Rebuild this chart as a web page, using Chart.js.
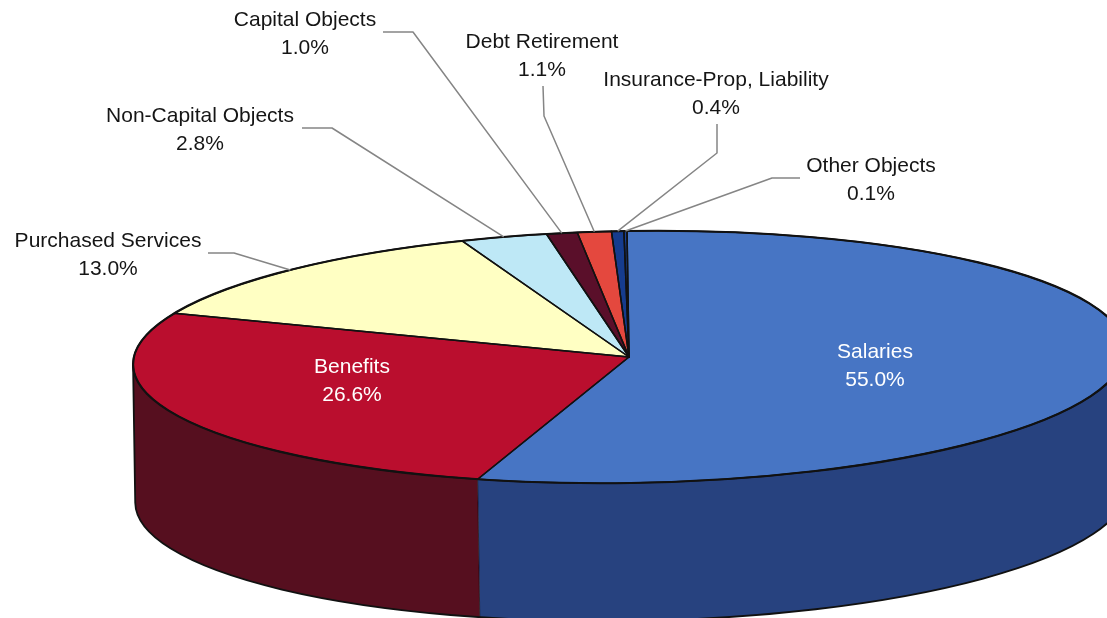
<!DOCTYPE html>
<html><head><meta charset="utf-8">
<script src="https://cdn.jsdelivr.net/npm/chart.js@4.4.1/dist/chart.umd.min.js"></script>
<style>html,body{margin:0;padding:0;background:#fff;overflow:hidden}canvas{display:block}</style>
</head><body>
<canvas id="c" width="1107" height="618"></canvas>
<script>
// ---- data ----
const categories = ["Salaries","Benefits","Purchased Services","Non-Capital Objects","Capital Objects","Debt Retirement","Insurance-Prop, Liability","Other Objects"];
const shares = [55.0, 26.6, 13.0, 2.8, 1.0, 1.1, 0.4, 0.1];

// ---- styles ----
const topColors  = ["#4775c4","#ba0e2e","#ffffc3","#bee8f6","#5a0f2a","#e4483e","#163c8e","#1a4296"];
const sideColors = ["#27427f","#560f1f","#d8d8a0","#9cc0d0","#3a0818","#a83028","#0e2460","#122c70"];
const geom = { Ry: 126, depth: 138, tilt: -0.0157 };
const FONT = "21px 'Liberation Sans', Arial, sans-serif";
const lineGap = 28;
const labelLayout = [
  {x:875, y:358, color:'#ffffff'},
  {x:352, y:373, color:'#ffffff'},
  {x:108, y:247, leader:[[208,253],[234,253]]},
  {x:200, y:122, leader:[[302,128],[332,128]]},
  {x:305, y:26,  leader:[[383,32],[413,32]]},
  {x:542, y:48,  leader:[[543,86],[544,116]]},
  {x:716, y:86,  leader:[[717,124],[717,153]]},
  {x:871, y:172, leader:[[800,178],[772,178]]}
];

function setTop(ctx, cx, cy, k){
  ctx.translate(cx, cy); ctx.rotate(geom.tilt); ctx.scale(1, k); ctx.translate(-cx, -cy);
}

const pie3d = {
  id: 'pie3d',
  beforeDatasetsDraw(chart){
    const ctx = chart.ctx;
    const arcs = chart.getDatasetMeta(0).data;
    const a0 = arcs[0];
    const cx = a0.x, cy = a0.y, R = a0.outerRadius, Ry = geom.Ry, D = geom.depth;
    ctx.save();
    ctx.translate(cx, cy); ctx.rotate(geom.tilt);
    arcs.forEach((arc, i) => {
      const s = arc.startAngle, e = arc.endAngle;
      for (const off of [-2*Math.PI, 0, 2*Math.PI]) {
        const lo = Math.max(s, off), hi = Math.min(e, Math.PI + off);
        if (hi > lo) {
          ctx.beginPath();
          ctx.ellipse(0, 0, R, Ry, 0, lo, hi, false);
          ctx.ellipse(0, D, R, Ry, 0, hi, lo, true);
          ctx.closePath();
          ctx.fillStyle = sideColors[i];
          ctx.fill();
        }
      }
      // slice boundary on visible side
      let a = ((s % (2*Math.PI)) + 2*Math.PI) % (2*Math.PI);
      if (a > 0.001 && a < Math.PI - 0.001) {
        const x = R*Math.cos(a), y = Ry*Math.sin(a);
        ctx.beginPath(); ctx.moveTo(x, y); ctx.lineTo(x, y + D);
        ctx.lineWidth = 1; ctx.strokeStyle = 'rgba(0,0,0,0.55)'; ctx.stroke();
      }
    });
    // side outline
    ctx.beginPath();
    ctx.moveTo(-R, 0); ctx.lineTo(-R, D);
    ctx.ellipse(0, D, R, Ry, 0, Math.PI, 0, true);
    ctx.lineTo(R, 0);
    ctx.lineWidth = 1.8; ctx.strokeStyle = '#111'; ctx.lineJoin = 'round'; ctx.stroke();
    ctx.restore();
    ctx.save();
    setTop(ctx, cx, cy, Ry / R);
  },
  afterDatasetsDraw(chart){
    const ctx = chart.ctx;
    ctx.restore();
    const arcs = chart.getDatasetMeta(0).data;
    const a0 = arcs[0];
    const cx = a0.x, cy = a0.y, R = a0.outerRadius, Ry = geom.Ry, k = Ry / R;
    const t = geom.tilt;
    // slice outlines
    arcs.forEach(arc => {
      ctx.save(); setTop(ctx, cx, cy, k);
      ctx.beginPath(); ctx.moveTo(cx, cy);
      ctx.arc(cx, cy, R, arc.startAngle, arc.endAngle); ctx.closePath();
      ctx.restore();
      ctx.lineWidth = 1.5; ctx.strokeStyle = '#111'; ctx.lineJoin = 'round'; ctx.stroke();
    });
    ctx.save(); setTop(ctx, cx, cy, k);
    ctx.beginPath(); ctx.arc(cx, cy, R, 0, 2*Math.PI);
    ctx.restore();
    ctx.lineWidth = 2.2; ctx.strokeStyle = '#111'; ctx.stroke();

    // labels and leaders
    ctx.save();
    ctx.font = FONT; ctx.textAlign = 'center'; ctx.textBaseline = 'alphabetic';
    arcs.forEach((arc, i) => {
      const L = labelLayout[i];
      if (L.leader) {
        const mid = (arc.startAngle + arc.endAngle) / 2;
        const lx = R*Math.cos(mid), ly = Ry*Math.sin(mid);
        const ex = cx + lx*Math.cos(t) - ly*Math.sin(t);
        const ey = cy + lx*Math.sin(t) + ly*Math.cos(t);
        ctx.beginPath();
        ctx.moveTo(L.leader[0][0], L.leader[0][1]);
        ctx.lineTo(L.leader[1][0], L.leader[1][1]);
        ctx.lineTo(ex, ey);
        ctx.lineWidth = 1.5; ctx.strokeStyle = '#858585'; ctx.stroke();
      }
      ctx.fillStyle = L.color || '#151515';
      ctx.fillText(categories[i], L.x, L.y);
      ctx.fillText(shares[i].toFixed(1) + '%', L.x, L.y + lineGap);
    });
    ctx.restore();
  }
};

new Chart(document.getElementById('c'), {
  type: 'pie',
  data: {
    labels: categories,
    datasets: [{
      data: shares,
      backgroundColor: topColors,
      borderWidth: 0,
      radius: 496,
      clip: false
    }]
  },
  options: {
    responsive: false,
    devicePixelRatio: 1,
    animation: false,
    layout: { padding: { left: 151, top: 96, right: 0, bottom: 0 } },
    plugins: { legend: { display: false }, tooltip: { enabled: false } },
    events: []
  },
  plugins: [pie3d]
});
</script>
</body></html>
